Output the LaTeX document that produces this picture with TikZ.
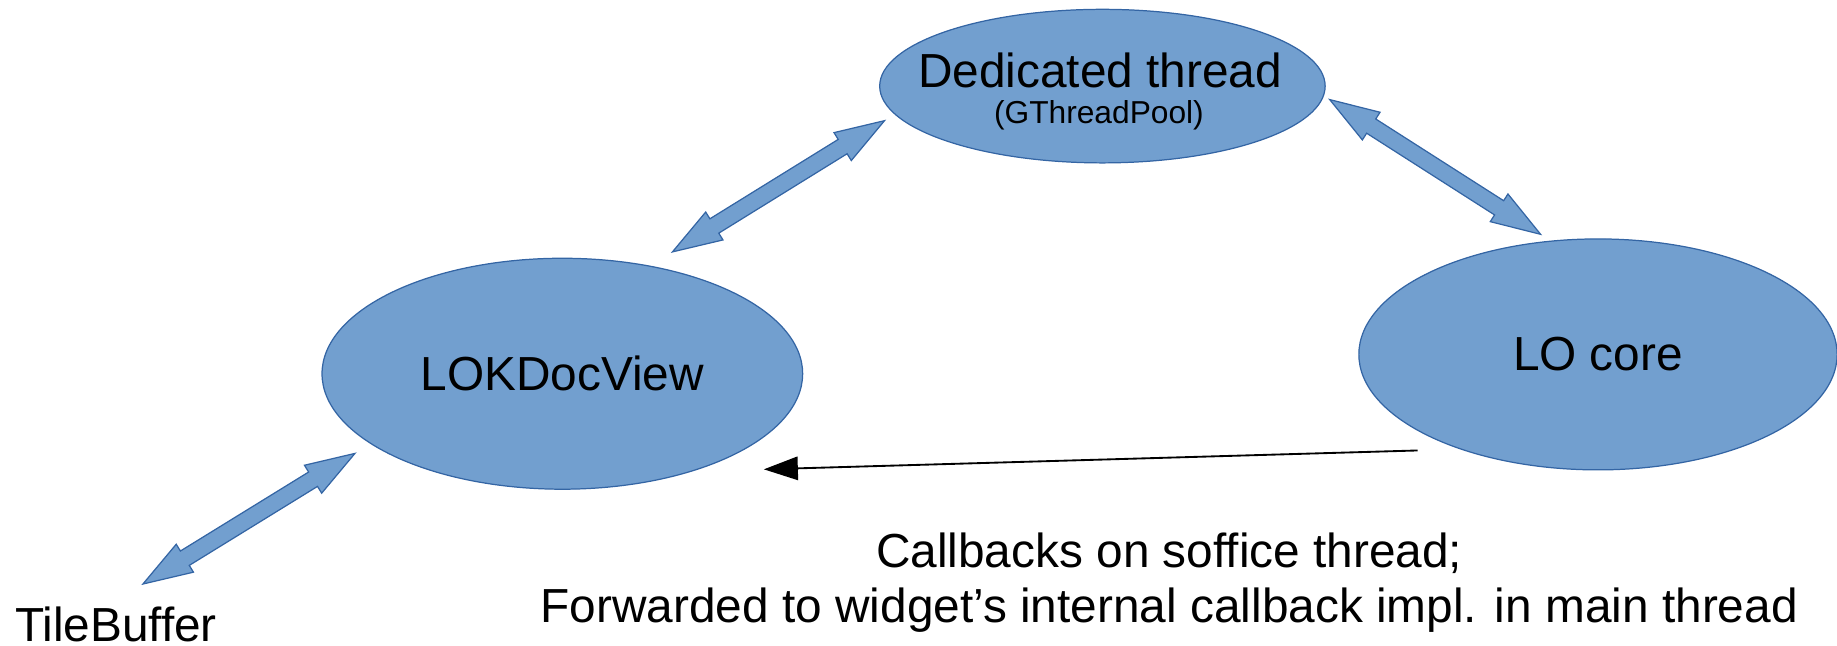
\documentclass[tikz,border=0pt]{standalone}
\usepackage{fontspec}
\setmainfont{Liberation Sans}
\usepackage{tikz}
\usetikzlibrary{calc,arrows.meta,shapes.geometric}

\definecolor{bubble}{HTML}{729FCF}
\definecolor{bubbleline}{HTML}{3465A4}

\newcommand{\fatarrow}[2]{%
  \filldraw[fatarrow] (#1) -- ($(#1)!0.42cm!(#2)!0.14cm!90:(#2)$) -- ($(#1)!0.42cm!(#2)!0.072cm!90:(#2)$)
    -- ($(#2)!0.42cm!(#1)!0.072cm!-90:(#1)$) -- ($(#2)!0.42cm!(#1)!0.14cm!-90:(#1)$) -- (#2)
    -- ($(#2)!0.42cm!(#1)!0.14cm!90:(#1)$) -- ($(#2)!0.42cm!(#1)!0.072cm!90:(#1)$)
    -- ($(#1)!0.42cm!(#2)!0.072cm!-90:(#2)$) -- ($(#1)!0.42cm!(#2)!0.14cm!-90:(#2)$) -- cycle;}

\begin{document}
\begin{tikzpicture}[x=0.01cm, y=-0.01cm,
    bubble/.style={ellipse, draw=bubbleline, fill=bubble, line width=0.3pt, inner sep=0pt},
    fatarrow/.style={draw=bubbleline, fill=bubble, line width=0.3pt, line join=miter},
    caption/.style={font=\fontsize{11.6}{13.4}\selectfont, inner sep=0pt, align=center}]

  \useasboundingbox (0,0) rectangle (1568,551);

  \node[bubble, minimum width=3.8cm, minimum height=1.31cm] (pool) at (941,73.5) {};
  \node[caption] (pooltitle) at (939,60) {Dedicated thread};
  \node[caption, font=\fontsize{7.7}{9}\selectfont] (poolsub) at (938,98) {(GThreadPool)};
  \node[bubble, caption, minimum width=4.1cm, minimum height=1.97cm] (docview) at (480,319) {LOKDocView};
  \node[bubble, caption, minimum width=4.08cm, minimum height=1.97cm] (core) at (1364,302.5) {LO core};

  \coordinate (viewtip) at (574,215);
  \coordinate (pooltipl) at (755,103);
  \coordinate (pooltipr) at (1135,85);
  \coordinate (coretip) at (1315,200);
  \coordinate (buftip) at (122,498.5);
  \coordinate (viewtipl) at (303,387);

  \fatarrow{viewtip}{pooltipl}
  \fatarrow{pooltipr}{coretip}
  \fatarrow{buftip}{viewtipl}

  \coordinate (cbstart) at (1210,384.5);
  \coordinate (cbend) at (652,400.6);
  \draw[-{Triangle[length=0.29cm,width=0.2cm]}, line width=0.45pt] (cbstart) -- (cbend);

  \node[caption] (callbacks) at (998,497) {Callbacks on soffice thread;\\Forwarded to widget’s internal callback impl. in main thread};
  \node[caption] (tilebuf) at (99,533) {TileBuffer};
\end{tikzpicture}
\end{document}
